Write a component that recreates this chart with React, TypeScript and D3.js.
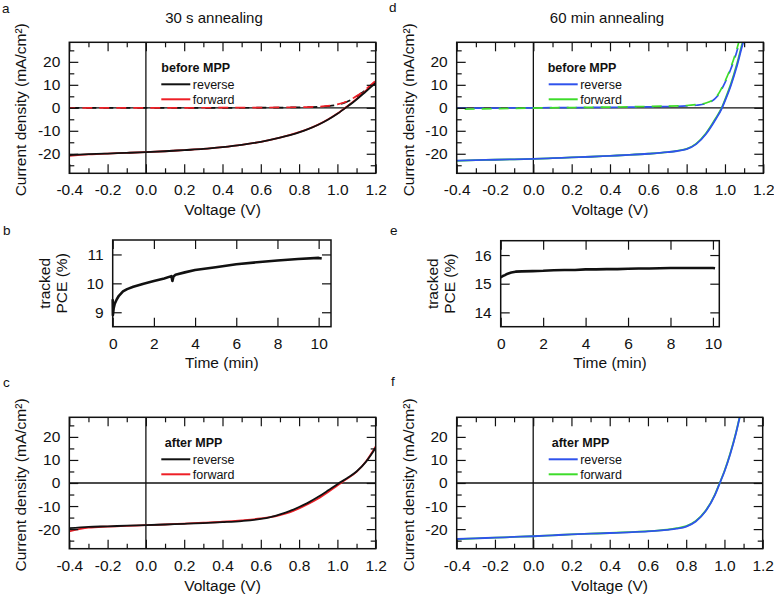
import React, { useEffect, useRef } from "react";
import * as d3 from "d3";

// ---- axes / ticks ----
const jvVoltDomain = [-0.4, 1.2];
const jvCurrentDomain = [-28.5, 28.5];
const jvVoltTicks = [-0.4, -0.2, 0, 0.2, 0.4, 0.6, 0.8, 1.0, 1.2];
const jvVoltMinor = [-0.3, -0.1, 0.1, 0.3, 0.5, 0.7, 0.9, 1.1];
const jvCurrentTicks = [-20, -10, 0, 10, 20];
const jvCurrentMinor = [-25, -15, -5, 5, 15, 25];
const timeTicks = [0, 2, 4, 6, 8, 10];

// ---- a: 30 s annealing, before MPP ----
const aVoltage = [-0.4, -0.3, -0.2, -0.1, 0, 0.1, 0.2, 0.3, 0.4, 0.5, 0.6, 0.7, 0.8, 0.85, 0.9, 0.95, 1.0, 1.05, 1.1, 1.15, 1.2];
const aReverse = [-20.6, -20.2, -19.9, -19.6, -19.3, -18.9, -18.4, -17.9, -17.1, -16.1, -14.8, -13.0, -10.7, -9.2, -7.4, -5.2, -2.6, 0.4, 3.6, 7.2, 10.8];
const aForward = [-20.9, -20.3, -19.9, -19.6, -19.3, -18.9, -18.4, -17.9, -17.1, -16.1, -14.8, -13.0, -10.6, -9.1, -7.3, -5.1, -2.5, 0.6, 3.9, 7.6, 11.6];
const aDarkVoltage = [-0.4, -0.2, 0, 0.2, 0.4, 0.6, 0.8, 0.9, 0.95, 1.0, 1.05, 1.1, 1.15, 1.2];
const aReverseDark = [0, 0, 0, 0, 0, 0.05, 0.2, 0.4, 0.7, 1.3, 2.6, 4.9, 7.9, 11.4];
const aForwardDark = [-0.1, -0.05, 0, 0, 0.05, 0.1, 0.25, 0.5, 0.8, 1.5, 2.8, 5.1, 8.2, 11.8];

// ---- b: 30 s annealing, tracked PCE ----
const bTime = [0, 0.01, 0.05, 0.1, 0.2, 0.3, 0.5, 0.7, 1.0, 1.5, 2.0, 2.5, 2.85, 2.9, 2.95, 3.05, 3.5, 4.0, 5.0, 6.0, 7.0, 8.0, 9.0, 10.0, 10.15];
const bPce = [9.45, 8.9, 9.15, 9.3, 9.45, 9.57, 9.72, 9.8, 9.88, 9.99, 10.08, 10.17, 10.25, 10.08, 10.24, 10.3, 10.38, 10.46, 10.56, 10.66, 10.73, 10.79, 10.84, 10.88, 10.86];

// ---- c: 30 s annealing, after MPP ----
const cVoltage = [-0.4, -0.3, -0.2, -0.1, 0, 0.1, 0.2, 0.3, 0.4, 0.5, 0.6, 0.65, 0.7, 0.75, 0.8, 0.85, 0.9, 0.95, 1.0, 1.05, 1.1, 1.15, 1.2];
const cReverse = [-19.6, -19.0, -18.8, -18.5, -18.3, -18.0, -17.7, -17.4, -17.0, -16.5, -15.6, -14.8, -13.6, -12.2, -10.4, -8.4, -6.0, -3.3, -0.5, 2.1, 5.0, 9.3, 15.3];
const cForward = [-21.0, -19.4, -18.9, -18.6, -18.3, -18.0, -17.6, -17.2, -16.8, -16.2, -15.4, -14.8, -13.9, -12.7, -11.0, -9.0, -6.7, -4.0, -1.1, 1.8, 4.8, 9.4, 15.8];

// ---- d: 60 min annealing, before MPP ----
const dVoltage = [-0.4, -0.3, -0.2, -0.1, 0, 0.1, 0.2, 0.3, 0.4, 0.5, 0.6, 0.7, 0.75, 0.8, 0.85, 0.9, 0.95, 0.985, 1.0, 1.03, 1.06, 1.09, 1.11];
const dReverse = [-23.0, -22.8, -22.6, -22.4, -22.2, -21.9, -21.6, -21.3, -20.9, -20.5, -20.0, -19.3, -18.8, -18.0, -15.8, -11.5, -5.2, 0, 3.0, 9.5, 17.5, 27.0, 33.0];
const dForward = [-23.1, -22.8, -22.6, -22.4, -22.2, -21.9, -21.6, -21.3, -20.9, -20.5, -20.0, -19.3, -18.7, -17.9, -15.6, -11.2, -4.8, 0.4, 3.5, 10.2, 18.4, 28.0, 34.0];
const dDarkVoltage = [-0.4, -0.2, 0, 0.2, 0.4, 0.6, 0.8, 0.85, 0.9, 0.93, 0.96, 1.0, 1.03, 1.06, 1.08];
const dReverseDark = [-0.2, -0.1, 0, 0.1, 0.2, 0.4, 0.8, 1.1, 1.8, 2.8, 5.0, 11.0, 16.8, 24.0, 30.0];
const dForwardDark = [-0.6, -0.4, -0.1, 0.1, 0.3, 0.6, 1.0, 1.4, 2.1, 3.1, 5.3, 11.5, 17.5, 25.0, 31.0];

// ---- e: 60 min annealing, tracked PCE ----
const eTime = [0, 0.1, 0.2, 0.3, 0.5, 0.7, 1.0, 1.5, 2.0, 2.5, 3.0, 3.5, 4.0, 4.5, 5.0, 5.5, 6.0, 6.5, 7.0, 7.5, 8.0, 8.5, 9.0, 9.5, 10.0, 10.1];
const ePce = [15.22, 15.27, 15.3, 15.34, 15.39, 15.42, 15.43, 15.44, 15.45, 15.47, 15.48, 15.48, 15.5, 15.5, 15.51, 15.51, 15.52, 15.53, 15.53, 15.54, 15.55, 15.55, 15.55, 15.55, 15.55, 15.54];

// ---- f: 60 min annealing, after MPP ----
const fVoltage = [-0.4, -0.3, -0.2, -0.1, 0, 0.1, 0.2, 0.3, 0.4, 0.5, 0.6, 0.7, 0.75, 0.8, 0.85, 0.9, 0.95, 0.976, 1.0, 1.03, 1.06, 1.08, 1.1];
const fReverse = [-24.3, -24.0, -23.7, -23.4, -23.1, -22.7, -22.3, -22.0, -21.7, -21.4, -21.0, -20.3, -19.8, -18.9, -16.7, -12.4, -5.3, 0, 5.0, 12.5, 21.5, 28.5, 35.0];
const fForward = [-24.4, -24.0, -23.7, -23.4, -23.1, -22.7, -22.3, -22.0, -21.7, -21.3, -20.9, -20.2, -19.6, -18.7, -16.5, -12.2, -5.0, 0.2, 5.2, 12.8, 21.8, 28.8, 35.3];

const FONT = "'Liberation Sans', Arial, Helvetica, sans-serif";
const INK = "#111";
const RED = "#ee1f26";
const BLUE = "#2f52ec";
const GREEN = "#3ddc2a";

type Box = { x0: number; x1: number; y0: number; y1: number };
type Curve = { x: number[]; y: number[]; color: string; dashed?: boolean; offset?: number };

function addAxes(g: any, x: any, y: any, box: Box, xt: number[], xm: number[], yt: number[], ym: number[], xfmt: any, yfmt: any) {
  const major = 9;
  const minor = 5;
  const style = (sel: any) => {
    sel.select(".domain").remove();
    sel.selectAll("line").attr("stroke", INK).attr("stroke-width", 1.2);
    sel.selectAll("text").attr("font-family", FONT).attr("font-size", 15.5).attr("fill", INK);
  };
  const none = () => "";
  // bottom / top
  g.append("g").attr("transform", `translate(0,${box.y1})`)
    .call(d3.axisBottom(x).tickValues(xt).tickSize(-major).tickPadding(11).tickFormat(xfmt)).call(style);
  g.append("g").attr("transform", `translate(0,${box.y0})`)
    .call(d3.axisTop(x).tickValues(xt).tickSize(-major).tickFormat(none)).call(style);
  if (xm.length) {
    g.append("g").attr("transform", `translate(0,${box.y1})`)
      .call(d3.axisBottom(x).tickValues(xm).tickSize(-minor).tickFormat(none)).call(style);
    g.append("g").attr("transform", `translate(0,${box.y0})`)
      .call(d3.axisTop(x).tickValues(xm).tickSize(-minor).tickFormat(none)).call(style);
  }
  // left / right
  g.append("g").attr("transform", `translate(${box.x0},0)`)
    .call(d3.axisLeft(y).tickValues(yt).tickSize(-major).tickPadding(9).tickFormat(yfmt)).call(style);
  g.append("g").attr("transform", `translate(${box.x1},0)`)
    .call(d3.axisRight(y).tickValues(yt).tickSize(-major).tickFormat(none)).call(style);
  if (ym.length) {
    g.append("g").attr("transform", `translate(${box.x0},0)`)
      .call(d3.axisLeft(y).tickValues(ym).tickSize(-minor).tickFormat(none)).call(style);
    g.append("g").attr("transform", `translate(${box.x1},0)`)
      .call(d3.axisRight(y).tickValues(ym).tickSize(-minor).tickFormat(none)).call(style);
  }
  g.append("rect")
    .attr("x", box.x0).attr("y", box.y0)
    .attr("width", box.x1 - box.x0).attr("height", box.y1 - box.y0)
    .attr("fill", "none").attr("stroke", INK).attr("stroke-width", 1.5);
}

function drawJV(svg: any, id: string, box: Box, curves: Curve[], legendTitle: string, legendX: number, legend: [string, string][]) {
  const x = d3.scaleLinear().domain(jvVoltDomain).range([box.x0, box.x1]);
  const y = d3.scaleLinear().domain(jvCurrentDomain).range([box.y1, box.y0]);
  const g = svg.append("g");

  g.append("clipPath").attr("id", id).append("rect")
    .attr("x", box.x0).attr("y", box.y0)
    .attr("width", box.x1 - box.x0).attr("height", box.y1 - box.y0);

  // zero lines
  g.append("line").attr("x1", x(0)).attr("x2", x(0)).attr("y1", box.y0).attr("y2", box.y1)
    .attr("stroke", INK).attr("stroke-width", 1.3);
  g.append("line").attr("x1", box.x0).attr("x2", box.x1).attr("y1", y(0)).attr("y2", y(0))
    .attr("stroke", INK).attr("stroke-width", 1.3);

  const line = d3.line<[number, number]>()
    .x(d => x(d[0])).y(d => y(d[1]))
    .curve(d3.curveMonotoneX);

  curves.forEach(c => {
    g.append("path")
      .datum(d3.zip(c.x, c.y))
      .attr("d", line)
      .attr("clip-path", `url(#${id})`)
      .attr("fill", "none")
      .attr("stroke", c.color)
      .attr("stroke-width", c.dashed ? 1.7 : 1.8)
      .attr("stroke-dasharray", c.dashed ? "10,7" : null)
      .attr("stroke-dashoffset", c.offset || 0);
  });

  addAxes(g, x, y, box, jvVoltTicks, jvVoltMinor, jvCurrentTicks, jvCurrentMinor,
    (d: number) => d.toFixed(1), (d: number) => String(d));

  // legend
  g.append("text").attr("x", box.x0 + legendX).attr("y", box.y0 + 30)
    .attr("font-family", FONT).attr("font-size", 12.5).attr("font-weight", "bold").attr("fill", INK)
    .text(legendTitle);
  legend.forEach(([name, color], i) => {
    const ly = box.y0 + 42 + i * 15;
    g.append("line").attr("x1", box.x0 + 92).attr("x2", box.x0 + 121).attr("y1", ly).attr("y2", ly)
      .attr("stroke", color).attr("stroke-width", 2);
    g.append("text").attr("x", box.x0 + 123.5).attr("y", ly + 4.3)
      .attr("font-family", FONT).attr("font-size", 12.5).attr("fill", INK)
      .text(name);
  });

  // axis labels
  g.append("text").attr("x", (box.x0 + box.x1) / 2).attr("y", box.y1 + 42)
    .attr("text-anchor", "middle").attr("font-family", FONT).attr("font-size", 15.5).attr("fill", INK)
    .text("Voltage (V)");
  g.append("text")
    .attr("transform", `translate(${box.x0 - 43},${(box.y0 + box.y1) / 2 + 2}) rotate(-90)`)
    .attr("text-anchor", "middle").attr("font-family", FONT).attr("font-size", 15.5).attr("fill", INK)
    .text("Current density (mA/cm²)");
}

function drawTrack(svg: any, box: Box, xMax: number, yDomain: number[], yTicks: number[], time: number[], pce: number[]) {
  const x = d3.scaleLinear().domain([0, xMax]).range([box.x0, box.x1]);
  const y = d3.scaleLinear().domain(yDomain).range([box.y1, box.y0]);
  const g = svg.append("g");

  const line = d3.line<[number, number]>().x(d => x(d[0])).y(d => y(d[1]));
  g.append("path")
    .datum(d3.zip(time, pce))
    .attr("d", line)
    .attr("fill", "none")
    .attr("stroke", INK)
    .attr("stroke-width", 2.6)
    .attr("stroke-linejoin", "round");

  addAxes(g, x, y, box, timeTicks, [], yTicks, [],
    (d: number) => String(d), (d: number) => String(d));

  g.append("text").attr("x", (box.x0 + box.x1) / 2).attr("y", box.y1 + 41.5)
    .attr("text-anchor", "middle").attr("font-family", FONT).attr("font-size", 15.5).attr("fill", INK)
    .text("Time (min)");
  const cy = (box.y0 + box.y1) / 2;
  [["tracked", 62.5], ["PCE (%)", 45.5]].forEach(([t, off]) => {
    g.append("text")
      .attr("transform", `translate(${box.x0 - (off as number)},${cy}) rotate(-90)`)
      .attr("text-anchor", "middle").attr("font-family", FONT).attr("font-size", 15.5).attr("fill", INK)
      .text(t as string);
  });
}

export default function App() {
  const ref = useRef<SVGSVGElement>(null);

  useEffect(() => {
    const svg = d3.select(ref.current);
    svg.selectAll("*").remove();

    // titles
    svg.append("text").attr("x", 214).attr("y", 23).attr("text-anchor", "middle")
      .attr("font-family", FONT).attr("font-size", 15).attr("fill", INK).text("30 s annealing");
    svg.append("text").attr("x", 607).attr("y", 23).attr("text-anchor", "middle")
      .attr("font-family", FONT).attr("font-size", 15).attr("fill", INK).text("60 min annealing");

    // panel letters
    const letters: [string, number, number][] = [
      ["a", 2, 13], ["d", 389, 12], ["b", 3, 235], ["e", 390, 235], ["c", 3, 387], ["f", 391, 386],
    ];
    letters.forEach(([t, lx, ly]) => {
      svg.append("text").attr("x", lx).attr("y", ly)
        .attr("font-family", FONT).attr("font-size", 13.5).attr("fill", INK).text(t);
    });

    drawJV(svg, "clipA", { x0: 69.3, x1: 375.7, y0: 42.3, y1: 173.3 }, [
      { x: aDarkVoltage, y: aReverseDark, color: INK, dashed: true },
      { x: aDarkVoltage, y: aForwardDark, color: RED, dashed: true, offset: 4 },
      { x: aVoltage, y: aForward, color: RED },
      { x: aVoltage, y: aReverse, color: INK },
    ], "before MPP", 92, [["reverse", INK], ["forward", RED]]);

    drawJV(svg, "clipD", { x0: 456.7, x1: 763.3, y0: 42.3, y1: 173.3 }, [
      { x: dDarkVoltage, y: dReverseDark, color: BLUE, dashed: true },
      { x: dDarkVoltage, y: dForwardDark, color: GREEN, dashed: true, offset: 9 },
      { x: dVoltage, y: dForward, color: GREEN },
      { x: dVoltage, y: dReverse, color: BLUE },
    ], "before MPP", 91, [["reverse", BLUE], ["forward", GREEN]]);

    drawJV(svg, "clipC", { x0: 69.3, x1: 375.7, y0: 417.3, y1: 548.7 }, [
      { x: cVoltage, y: cForward, color: RED },
      { x: cVoltage, y: cReverse, color: INK },
    ], "after MPP", 95.5, [["reverse", INK], ["forward", RED]]);

    drawJV(svg, "clipF", { x0: 456.7, x1: 762.7, y0: 417.3, y1: 548.7 }, [
      { x: fVoltage, y: fForward, color: GREEN },
      { x: fVoltage, y: fReverse, color: BLUE },
    ], "after MPP", 95, [["reverse", BLUE], ["forward", GREEN]]);

    drawTrack(svg, { x0: 112.7, x1: 331, y0: 240, y1: 326.7 }, 10.6, [8.5, 11.5], [9, 10, 11], bTime, bPce);
    drawTrack(svg, { x0: 500.7, x1: 719.3, y0: 240.7, y1: 326.7 }, 10.3, [13.5, 16.5], [14, 15, 16], eTime, ePce);
  }, []);

  return (
    <svg
      ref={ref}
      width={774}
      height={596}
      style={{ position: "absolute", left: 0, top: 0, background: "#fff" }}
    />
  );
}
